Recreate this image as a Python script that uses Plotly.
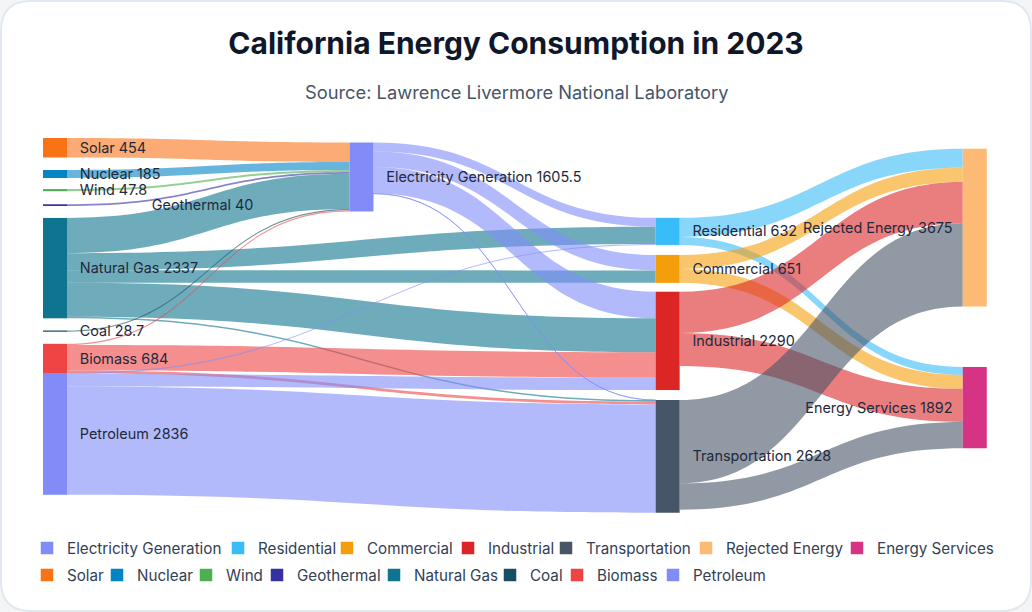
import plotly.graph_objects as go

# ---------------- data ----------------
node_names = ["Electricity Generation", "Residential", "Commercial", "Industrial",
              "Transportation", "Rejected Energy", "Energy Services",
              "Solar", "Nuclear", "Wind", "Geothermal", "Natural Gas", "Coal",
              "Biomass", "Petroleum"]
node_totals = ["1605.5", "632", "651", "2290", "2628", "3675", "1892",
               "454", "185", "47.8", "40", "2337", "28.7", "684", "2836"]
node_colors = ["#818cf8", "#38bdf8", "#f59e0b", "#dc2626", "#475569", "#fdba74", "#d63384",
               "#f97316", "#0284c7", "#4caf50", "#3730a3", "#0e7490", "#164e63",
               "#ef4444", "#818cf8"]

link_source = ["Solar", "Nuclear", "Wind", "Geothermal",
               "Natural Gas", "Natural Gas", "Natural Gas", "Natural Gas", "Natural Gas",
               "Coal", "Biomass", "Biomass", "Biomass",
               "Petroleum", "Petroleum", "Petroleum",
               "Electricity Generation", "Electricity Generation", "Electricity Generation",
               "Electricity Generation",
               "Residential", "Residential", "Commercial", "Commercial",
               "Industrial", "Industrial", "Transportation", "Transportation"]
link_target = ["Electricity Generation"] * 4 + \
              ["Electricity Generation", "Residential", "Commercial", "Industrial", "Transportation",
               "Electricity Generation", "Electricity Generation", "Industrial", "Transportation",
               "Residential", "Industrial", "Transportation",
               "Residential", "Commercial", "Industrial", "Transportation",
               "Rejected Energy", "Energy Services", "Rejected Energy", "Energy Services",
               "Rejected Energy", "Energy Services", "Rejected Energy", "Energy Services"]
link_values = [454, 185, 47.8, 40,
               820, 400, 290, 790, 37,
               28.7, 30, 590, 64,
               24, 290, 2522,
               208, 361, 620, 2,
               445, 187, 330, 321,
               960, 770, 1940, 614]

# ---------------- layout hints (not data) ----------------
# normalised node centres within the sankey domain
node_x = [0.337, 0.661, 0.661, 0.661, 0.661, 0.986, 0.986,
          0.0127, 0.0127, 0.0127, 0.0127, 0.0127, 0.0127, 0.0127, 0.0127]
node_y = [0.104, 0.249, 0.349, 0.541, 0.849, 0.239, 0.719,
          0.026, 0.096, 0.139, 0.179, 0.347, 0.515, 0.588, 0.789]
last_column = {"Rejected Energy", "Energy Services"}
label_indent = {"Geothermal": 10}          # extra en-spaces before a label
legend_entry_width = [146, 64, 76, 53, 95, 106, 130,
                      25, 44, 26, 72, 71, 22, 51, 85]

# ---------------- helpers ----------------
def rgba(hex_color, a):
    h = hex_color.lstrip("#")
    r, g, b = int(h[0:2], 16), int(h[2:4], 16), int(h[4:6], 16)
    return f"rgba({r},{g},{b},{a})"

idx = {n: i for i, n in enumerate(node_names)}
src = [idx[s] for s in link_source]
tgt = [idx[t] for t in link_target]
PAD_L = "\u2002\u2009"
PAD_R = "\u2002"
labels = []
for n, v in zip(node_names, node_totals):
    if n in last_column:
        labels.append(f"{n} {v}{PAD_R}")
    else:
        labels.append("\u2002" * label_indent.get(n, 0) + f"{PAD_L}{n} {v}")
link_colors = [rgba(node_colors[s], 0.6) for s in src]

W, H = 1032, 612
FONT = "Inter, 'Noto Sans', sans-serif"

fig = go.Figure()
fig.add_trace(go.Sankey(
    arrangement="fixed",
    domain=dict(x=[43 / W, 988 / W], y=[1 - 513 / H, 1 - 138 / H]),
    node=dict(label=labels, color=node_colors, pad=13, thickness=24,
              line=dict(width=0), x=node_x, y=node_y),
    link=dict(source=src, target=tgt, value=link_values, color=link_colors),
    textfont=dict(family=FONT, size=14.4, color="#1e293b", shadow="none"),
))

# legend entries (dummy traces)
row1 = node_names[:7]
for i, n in enumerate(node_names):
    fig.add_trace(go.Scatter(
        x=[None], y=[None], mode="markers", name=n,
        marker=dict(symbol="square", size=12.5, color=node_colors[i]),
        legend="legend" if n in row1 else "legend2",
        legendwidth=legend_entry_width[i],
        showlegend=True, hoverinfo="skip"))

r = 30
x0, x1 = 1 / W, (W - 1) / W
y0, y1 = 1 / H, (H - 1) / H
rx, ry = r / W, r / H
card = (f"M {x0+rx},{y1} L {x1-rx},{y1} Q {x1},{y1} {x1},{y1-ry} "
        f"L {x1},{y0+ry} Q {x1},{y0} {x1-rx},{y0} L {x0+rx},{y0} "
        f"Q {x0},{y0} {x0},{y0+ry} L {x0},{y1-ry} Q {x0},{y1} {x0+rx},{y1} Z")

legend_style = dict(orientation="h", font=dict(family=FONT, size=15.2, color="#334155"),
                    bgcolor="rgba(0,0,0,0)", itemwidth=30,
                    xanchor="left", yanchor="middle", itemclick=False)

fig.update_layout(
    width=W, height=H,
    margin=dict(l=0, r=0, t=0, b=0),
    paper_bgcolor="#f4f5f7",
    plot_bgcolor="rgba(0,0,0,0)",
    font=dict(family=FONT),
    title=dict(text="California Energy Consumption in 2023",
               x=0.5, xanchor="center", y=1 - 43 / H, yanchor="middle", yref="container",
               font=dict(family=FONT, size=30, color="#0f172a", weight=700)),
    annotations=[dict(text="Source: Lawrence Livermore National Laboratory",
                      x=0.5, y=1 - 92 / H, xref="paper", yref="paper",
                      xanchor="center", yanchor="middle", showarrow=False,
                      font=dict(family=FONT, size=18.3, color="#475569"))],
    shapes=[dict(type="path", path=card, xref="paper", yref="paper", layer="below",
                 fillcolor="white", line=dict(color="#e2e8f0", width=2))],
    xaxis=dict(visible=False), yaxis=dict(visible=False),
    legend=dict(x=27 / W, y=1 - 548 / H, **legend_style),
    legend2=dict(x=27 / W, y=1 - 575 / H, **legend_style),
)

fig.write_html("out.html", config={"displayModeBar": False},
               post_script="document.body.style.margin='0';")
